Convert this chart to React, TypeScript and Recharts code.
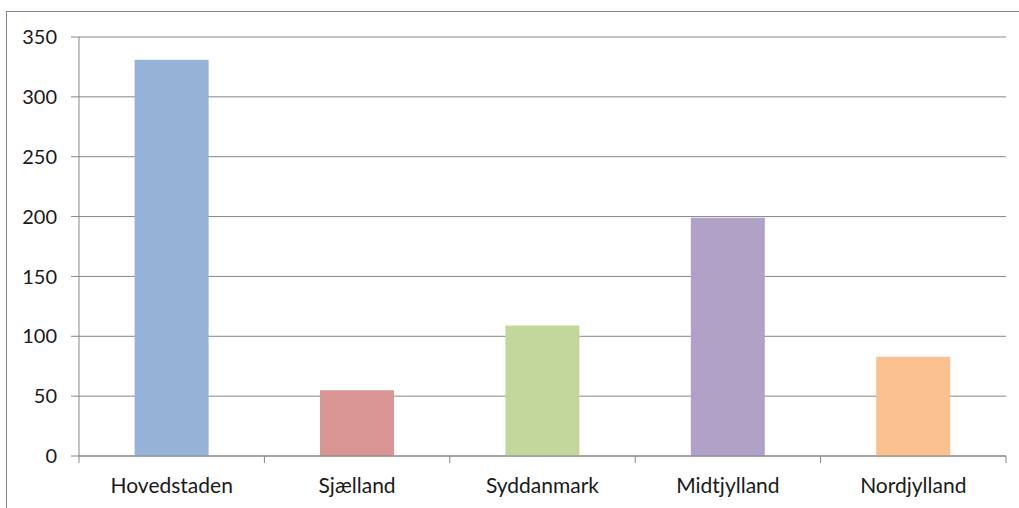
import React from "react";
import { Bar, BarChart, CartesianGrid, Cell, XAxis, YAxis } from "recharts";

const regions = ["Hovedstaden", "Sjælland", "Syddanmark", "Midtjylland", "Nordjylland"];
const counts = [331, 55, 109, 199, 83];
const barColors = ["#95B3D7", "#D99694", "#C3D69B", "#B2A1C7", "#FAC090"];
const yTicks = [0, 50, 100, 150, 200, 250, 300, 350];

const data = regions.map((region, i) => ({ region, count: counts[i] }));

const FONT = "Lato, 'Open Sans', sans-serif";

// category ticks sit between bars, like Excel
const RegionTick = (props: any) => {
  const { x, y, payload, index, width, visibleTicksCount } = props;
  const half = payload.offset ?? width / visibleTicksCount / 2;
  return (
    <g>
      <line x1={x - half} x2={x - half} y1={y} y2={y + 7} stroke="#868686" />
      {index === visibleTicksCount - 1 && (
        <line x1={x + half} x2={x + half} y1={y} y2={y + 7} stroke="#868686" />
      )}
      <text x={x} y={y + 37} textAnchor="middle" fill="#1a1a1a" fontSize={21} fontFamily={FONT}>
        {payload.value}
      </text>
    </g>
  );
};

export default function App() {
  return (
    <div
      style={{
        position: "absolute",
        left: 0,
        top: 0,
        width: 1019,
        height: 508,
        overflow: "hidden",
        background: "#fff",
      }}
    >
      <div
        style={{
          position: "absolute",
          left: 6,
          top: 11,
          width: 1040,
          height: 520,
          border: "1px solid #868686",
        }}
      />
      <BarChart
        width={1019}
        height={508}
        data={data}
        margin={{ top: 37, right: 13, bottom: 0, left: 0 }}
        barCategoryGap="30%"
        style={{ position: "absolute", left: 0, top: 0 }}
      >
        <CartesianGrid vertical={false} stroke="#868686" />
        <XAxis
          dataKey="region"
          height={52}
          interval={0}
          tickLine={false}
          tickSize={0}
          tickMargin={0}
          axisLine={{ stroke: "#868686" }}
          tick={<RegionTick />}
        />
        <YAxis
          width={79}
          domain={[0, 350]}
          ticks={yTicks}
          tickSize={8}
          tickMargin={14}
          axisLine={{ stroke: "#868686" }}
          tickLine={{ stroke: "#868686" }}
          tick={{ fill: "#1a1a1a", fontSize: 20, fontFamily: FONT }}
        />
        <Bar dataKey="count" isAnimationActive={false}>
          {data.map((d, i) => (
            <Cell key={d.region} fill={barColors[i]} />
          ))}
        </Bar>
      </BarChart>
    </div>
  );
}
